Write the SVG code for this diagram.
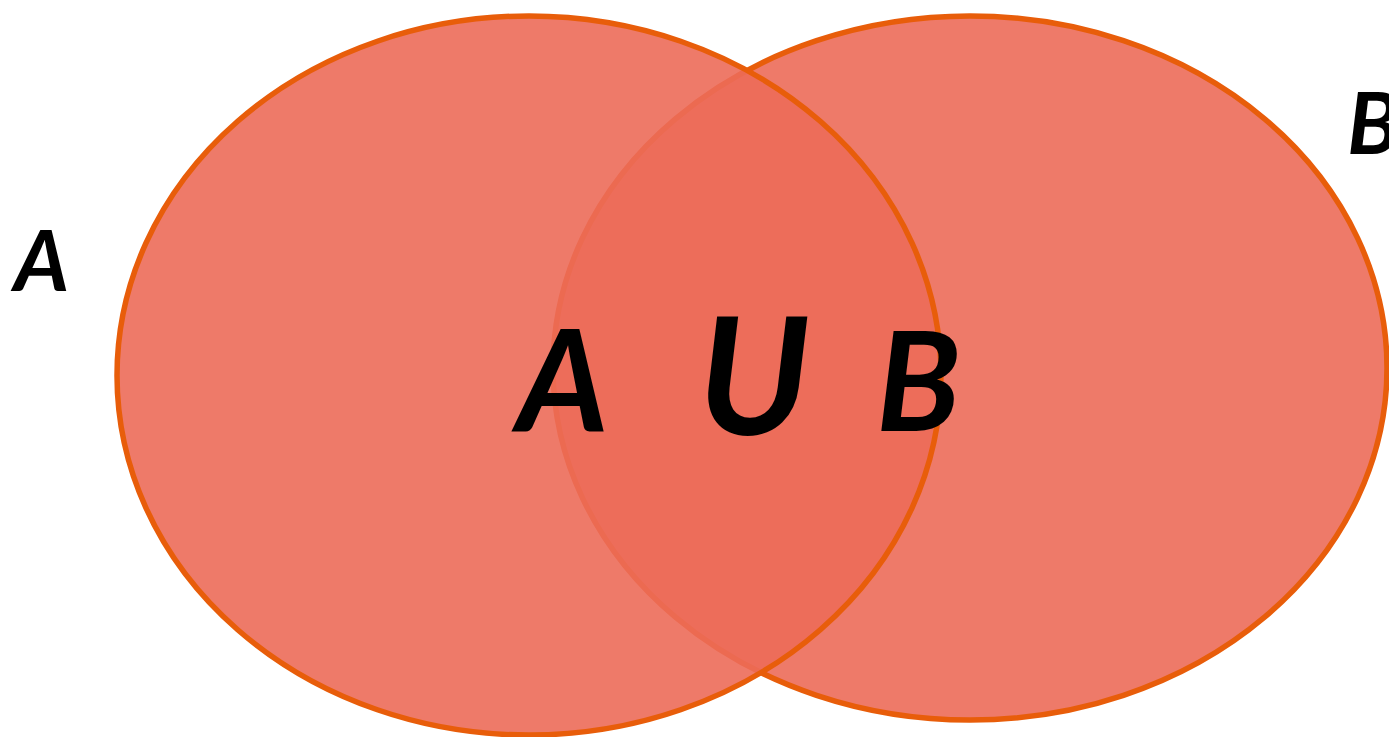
<svg xmlns="http://www.w3.org/2000/svg" width="1389" height="737" viewBox="0 0 1389 737">
  <style>
    .set { fill: #EC6C59; fill-opacity: 0.9; stroke: #E85D0A; stroke-width: 5.5; }
    .lbl { font-family: Lato, "Open Sans", "Liberation Sans", sans-serif; font-weight: bold; font-style: italic; fill: #000; }
  </style>
  <rect width="1389" height="737" fill="#fff"/>
  <g id="setB">
    <ellipse class="set" cx="970" cy="368" rx="417" ry="352"/>
  </g>
  <g id="setA">
    <ellipse class="set" cx="529" cy="375.5" rx="412" ry="359.5"/>
  </g>
  <g id="connectors"></g>
  <g id="labels">
    <text class="lbl" x="14" y="291" font-size="85">A</text>
    <text class="lbl" x="1347" y="154" font-size="86">B</text>
    <text class="lbl" x="517" y="432" font-size="141">A</text>
    <text class="lbl" x="698" y="435" font-size="162">U</text>
    <text class="lbl" x="876" y="431" font-size="138">B</text>
  </g>
</svg>
